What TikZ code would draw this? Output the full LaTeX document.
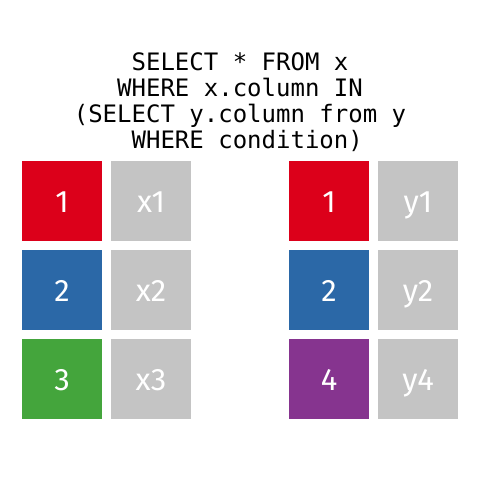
\documentclass[tikz,border=0pt]{standalone}
\usepackage{fontspec}
\setmainfont{Fira Sans}
\newfontfamily\codefont{DejaVu Sans Mono}
\definecolor{cred}{RGB}{220,0,26}
\definecolor{cblue}{RGB}{43,104,167}
\definecolor{cgreen}{RGB}{68,165,60}
\definecolor{cpurple}{RGB}{134,52,143}
\definecolor{cgray}{RGB}{196,196,196}
\begin{document}
\begin{tikzpicture}[x=1pt,y=-1pt,
  cell/.style={minimum width=80pt,minimum height=80pt,inner sep=0pt,outer sep=0pt},
  lbl/.style={text=white,font=\fontsize{31}{33}\selectfont,inner sep=0pt,anchor=base},
  code/.style={font=\codefont\fontsize{24}{26}\selectfont,inner sep=0pt,anchor=base}]
\useasboundingbox[fill=white] (0,0) rectangle (480,480);
\node[code] (q1) at (240,70) {SELECT * FROM x};
\node[code] (q2) at (240,96) {WHERE x.column IN};
\node[code] (q3) at (240,122) {(SELECT y.column from y};
\node[code] (q4) at (240,148) {\hphantom{W}WHERE condition)};
\foreach \n/\x/\y/\c/\t in {a1/62/201/cred/1, b1/151/201/cgray/x1,
  a2/62/290/cblue/2, b2/151/290/cgray/x2, a3/62/379/cgreen/3, b3/151/379/cgray/x3,
  c1/329/201/cred/1, d1/418/201/cgray/y1, c2/329/290/cblue/2, d2/418/290/cgray/y2,
  c3/329/379/cpurple/4, d3/418/379/cgray/y4}{
  \node[cell,fill=\c] (\n) at (\x,\y) {};
  \node[lbl] (\n t) at ([yshift=-11pt]\n.center) {\t};
}
\end{tikzpicture}
\end{document}
